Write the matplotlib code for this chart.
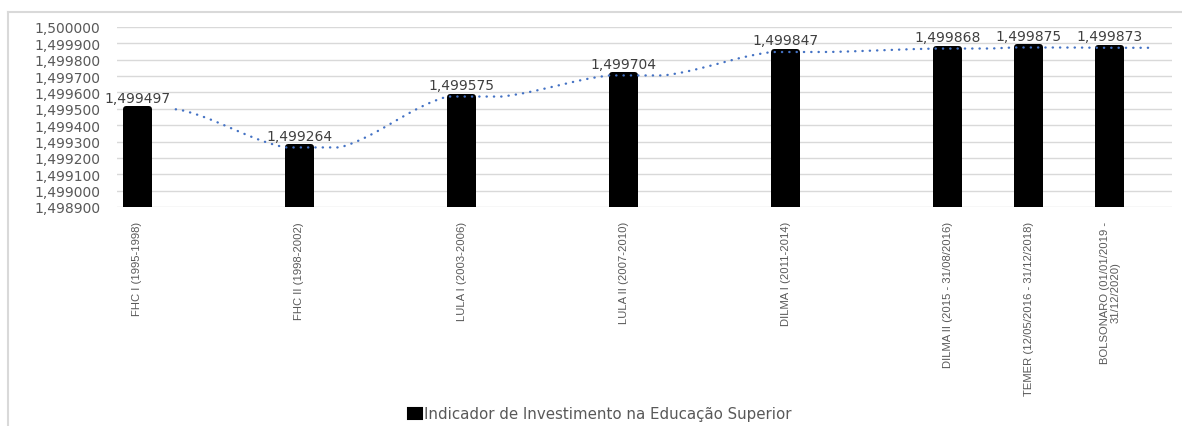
import numpy as np
import matplotlib
matplotlib.use("Agg")
import matplotlib.pyplot as plt
from matplotlib.lines import Line2D
from matplotlib.patches import Patch

# ---- data -------------------------------------------------------------
governos = [
    "FHC I (1995-1998)",
    "FHC II (1998-2002)",
    "LULA I (2003-2006)",
    "LULA II (2007-2010)",
    "DILMA I (2011-2014)",
    "DILMA II (2015 - 31/08/2016)",
    "TEMER (12/05/2016 - 31/12/2018)",
    "BOLSONARO (01/01/2019 -\n31/12/2020)",
]
# position of each term on the (date) category axis, in years
anos_eixo = [1995, 1999, 2003, 2007, 2011, 2015, 2017, 2019]
indicador = [1.499497, 1.499264, 1.499575, 1.499704,
             1.499847, 1.499868, 1.499875, 1.499873]
y_ticks = [1.4989, 1.4990, 1.4991, 1.4992, 1.4993, 1.4994,
           1.4995, 1.4996, 1.4997, 1.4998, 1.4999, 1.5000]
legenda = "Indicador de Investimento na Educação Superior"

# ---- figure -----------------------------------------------------------
W, H, DPI = 1182, 427, 100
fig = plt.figure(figsize=(W / DPI, H / DPI), dpi=DPI)
fig.patch.set_facecolor("white")

left, right, top, bottom = 117, 1172, 28, 208
ax = fig.add_axes([left / W, 1 - bottom / H, (right - left) / W, (bottom - top) / H])

x = np.array(anos_eixo, dtype=float)
v = np.array(indicador)
ymin, ymax = y_ticks[0], y_ticks[-1]

ax.set_xlim(1994.5, 2020.53)
ax.set_ylim(ymin, ymax)

# grid
for t in y_ticks:
    ax.axhline(t, color="#d9d9d9", lw=1.0, zorder=0)

# bars with rounded corners (thick round-joined edge)
px_per_year = (right - left) / (2020.53 - 1994.5)
edge_px = 6
bar_w = (29 - edge_px) / px_per_year
ax.bar(x, v - ymin, bottom=ymin, width=bar_w, color="black",
       edgecolor="black", linewidth=edge_px * 72 / DPI,
       joinstyle="round", zorder=2)

# data labels
for xi, vi in zip(x, v):
    ax.annotate(f"{vi:.6f}".replace(".", ","), (xi, vi),
                xytext=(0, 5.5), textcoords="offset points",
                ha="center", va="baseline", fontsize=10,
                color="#404040", family="DejaVu Sans", zorder=4)

# dotted trend line: holds each level around its bar, eased in between
hold_before, hold_after = 0.35, 1.0
segs_x, segs_y = [], []
for i in range(len(x)):
    a = x[i] - hold_before if i > 0 else x[i] + 0.95
    b = x[i] + hold_after
    xs = np.linspace(a, b, 20)
    segs_x.append(xs)
    segs_y.append(np.full_like(xs, v[i]))
    if i < len(x) - 1:
        c = x[i + 1] - hold_before
        t = np.linspace(0, 1, 80)
        ease = 0.6 * t + 0.4 * (1 - np.cos(np.pi * t)) / 2
        segs_x.append(b + (c - b) * t)
        segs_y.append(v[i] + (v[i + 1] - v[i]) * ease)
tx = np.concatenate(segs_x)
ty = np.concatenate(segs_y)
ax.plot(tx, ty, color="#4472C4", lw=1.7, linestyle=(0, (0.1, 3.0)),
        dash_capstyle="round", zorder=3)

# axes styling
for s in ax.spines.values():
    s.set_visible(False)
ax.set_yticks(y_ticks)
ax.set_yticklabels([f"{t:.6f}".replace(".", ",") for t in y_ticks],
                   fontsize=10, color="#595959", family="DejaVu Sans")
ax.tick_params(axis="y", length=0, pad=12)
ax.set_xticks(x)
ax.set_xticklabels(governos, rotation=90, fontsize=8.1, color="#595959",
                   family=["Liberation Sans", "DejaVu Sans"],
                   ha="center", va="top", multialignment="center",
                   linespacing=1.1)
ax.tick_params(axis="x", length=0, pad=10)

# chart frame (left and top edges)
fig.add_artist(Line2D([8 / W, 8 / W], [0, 1 - 13 / H], color="#d9d9d9",
                      lw=1.5, transform=fig.transFigure))
fig.add_artist(Line2D([8 / W, 1], [1 - 13 / H, 1 - 13 / H], color="#d9d9d9",
                      lw=1.5, transform=fig.transFigure))

# legend
handle = Patch(facecolor="black", edgecolor="black", joinstyle="round", lw=1.5)
fig.legend([handle], [legenda], loc="center",
           bbox_to_anchor=(600 / W, 1 - 415 / H), frameon=False,
           handlelength=0.95, handleheight=0.8,
           handletextpad=0.15, labelcolor="#595959",
           prop={"family": "DejaVu Sans", "size": 10.8})

fig.savefig("out.png", dpi=DPI, facecolor="white")
